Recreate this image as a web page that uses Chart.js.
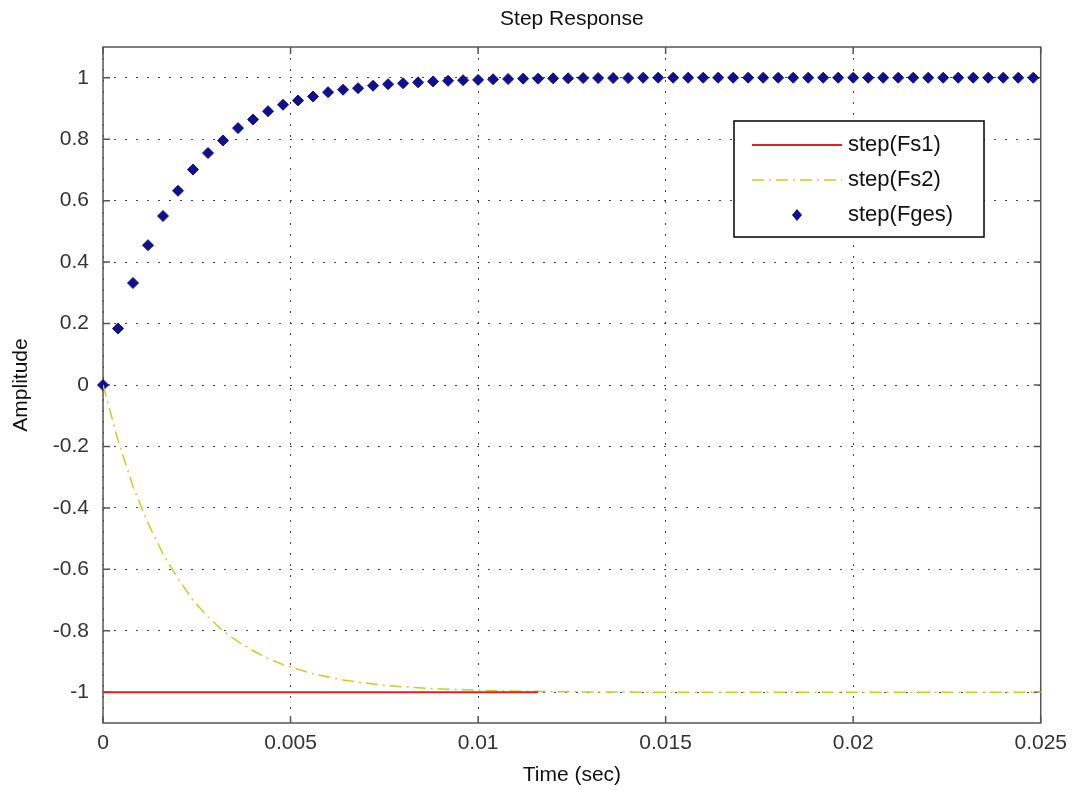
<!DOCTYPE html>
<html>
<head>
<meta charset="utf-8">
<title>Step Response</title>
<script src="https://cdn.jsdelivr.net/npm/chart.js@4.4.1/dist/chart.umd.min.js"></script>
<style>
  body { margin: 0; background: #fff; }
  canvas { display: block; }
</style>
</head>
<body>
<canvas id="step-chart" width="1075" height="796"></canvas>
<script>
// Данные
const stepTimes = [
    0, 0.0004, 0.0008, 0.0012, 0.0016, 0.002, 0.0024, 0.0028, 0.0032, 0.0036,
    0.004, 0.0044, 0.0048, 0.0052, 0.0056, 0.006, 0.0064, 0.0068, 0.0072, 0.0076,
    0.008, 0.0084, 0.0088, 0.0092, 0.0096, 0.01, 0.0104, 0.0108, 0.0112, 0.0116,
    0.012, 0.0124, 0.0128, 0.0132, 0.0136, 0.014, 0.0144, 0.0148, 0.0152, 0.0156,
    0.016, 0.0164, 0.0168, 0.0172, 0.0176, 0.018, 0.0184, 0.0188, 0.0192, 0.0196,
    0.02, 0.0204, 0.0208, 0.0212, 0.0216, 0.022, 0.0224, 0.0228, 0.0232, 0.0236,
    0.024, 0.0244, 0.0248
];
const fgesValues = [
    0, 0.184, 0.332, 0.455, 0.550, 0.632, 0.701, 0.755, 0.796, 0.836,
    0.864, 0.891, 0.912, 0.926, 0.939, 0.953, 0.961, 0.966, 0.974, 0.979,
    0.982, 0.985, 0.988, 0.990, 0.992, 0.993, 0.995, 0.996, 0.997, 0.997,
    0.998, 0.998, 0.999, 0.999, 0.999, 0.999, 1, 1, 1, 1,
    1, 1, 1, 1, 1, 1, 1, 1, 1, 1,
    1, 1, 1, 1, 1, 1, 1, 1, 1, 1,
    1, 1, 1
];
const fs2Times = stepTimes.concat([0.025]);
const fs2Values = [
    0, -0.18, -0.33, -0.45, -0.55, -0.63, -0.70, -0.755, -0.80, -0.835,
    -0.865, -0.89, -0.91, -0.925, -0.94, -0.95, -0.96, -0.967, -0.973, -0.978,
    -0.982, -0.985, -0.988, -0.99, -0.992, -0.993, -0.995, -0.996, -0.997, -0.997,
    -0.998, -0.998, -0.999, -0.999, -0.999, -0.999, -1, -1, -1, -1,
    -1, -1, -1, -1, -1, -1, -1, -1, -1, -1,
    -1, -1, -1, -1, -1, -1, -1, -1, -1, -1,
    -1, -1, -1, -1
];
const fs1Times = [0, 0.0116];
const fs1Values = [-1, -1];

const xTicks = [0, 0.005, 0.01, 0.015, 0.02, 0.025];
const yTicks = [-1, -0.8, -0.6, -0.4, -0.2, 0, 0.2, 0.4, 0.6, 0.8, 1];
const seriesNames = ['step(Fs1)', 'step(Fs2)', 'step(Fges)'];

const FONT = '"Liberation Sans", Arial, sans-serif';
const RED = '#e02020';
const YELLOW = '#cccc22';
const BLUE = '#10108c';

function toPoints(xs, ys) {
    return xs.map((x, i) => ({ x: x, y: ys[i] }));
}

// Рамка и засечки внутрь — под данными, легенда и заголовок — сверху
const framePlugin = {
    id: 'frame',
    beforeDatasetsDraw(chart) {
        const ctx = chart.ctx;
        const a = chart.chartArea;
        const xs = chart.scales.x;
        const ys = chart.scales.y;
        ctx.save();
        ctx.strokeStyle = '#555';
        ctx.lineWidth = 1.5;
        ctx.strokeRect(a.left, a.top, a.right - a.left, a.bottom - a.top);
        ctx.beginPath();
        xTicks.forEach(v => {
            const px = xs.getPixelForValue(v);
            ctx.moveTo(px, a.bottom); ctx.lineTo(px, a.bottom - 7);
            ctx.moveTo(px, a.top); ctx.lineTo(px, a.top + 7);
        });
        yTicks.forEach(v => {
            const py = ys.getPixelForValue(v);
            ctx.moveTo(a.left, py); ctx.lineTo(a.left + 7, py);
            ctx.moveTo(a.right, py); ctx.lineTo(a.right - 7, py);
        });
        ctx.stroke();
        ctx.restore();
    },
    afterDatasetsDraw(chart) {
        const ctx = chart.ctx;
        ctx.save();
        // легенда
        const bx = 734, by = 121, bw = 250, bh = 116;
        ctx.fillStyle = '#fff';
        ctx.fillRect(bx, by, bw, bh);
        ctx.strokeStyle = '#000';
        ctx.lineWidth = 1.5;
        ctx.strokeRect(bx, by, bw, bh);
        const rows = [145, 180, 215];
        ctx.lineWidth = 2;
        ctx.strokeStyle = RED;
        ctx.beginPath(); ctx.moveTo(752, rows[0]); ctx.lineTo(842, rows[0]); ctx.stroke();
        ctx.lineWidth = 1.5;
        ctx.strokeStyle = YELLOW;
        ctx.setLineDash([12, 5, 2, 5]);
        ctx.beginPath(); ctx.moveTo(752, rows[1]); ctx.lineTo(842, rows[1]); ctx.stroke();
        ctx.setLineDash([]);
        ctx.fillStyle = BLUE;
        ctx.beginPath();
        ctx.moveTo(797, rows[2] - 6); ctx.lineTo(802, rows[2]);
        ctx.lineTo(797, rows[2] + 6); ctx.lineTo(792, rows[2]);
        ctx.closePath(); ctx.fill();
        ctx.fillStyle = '#111';
        ctx.font = '22px ' + FONT;
        ctx.textAlign = 'left';
        ctx.textBaseline = 'middle';
        seriesNames.forEach((name, i) => ctx.fillText(name, 848, rows[i]));
        ctx.restore();
    },
    afterDraw(chart) {
        const ctx = chart.ctx;
        const a = chart.chartArea;
        ctx.save();
        ctx.fillStyle = '#111';
        ctx.font = '21px ' + FONT;
        ctx.textAlign = 'center';
        ctx.textBaseline = 'middle';
        ctx.fillText('Step Response', (a.left + a.right) / 2, 19);
        ctx.restore();
    }
};

const ctx = document.getElementById('step-chart').getContext('2d');
const stepChart = new Chart(ctx, {
    type: 'line',
    data: {
        datasets: [
            {
                label: seriesNames[0],
                data: toPoints(fs1Times, fs1Values),
                borderColor: RED,
                borderWidth: 2,
                pointRadius: 0,
                fill: false
            },
            {
                label: seriesNames[1],
                data: toPoints(fs2Times, fs2Values),
                borderColor: YELLOW,
                borderWidth: 1.5,
                borderDash: [12, 5, 2, 5],
                pointRadius: 0,
                fill: false
            },
            {
                label: seriesNames[2],
                data: toPoints(stepTimes, fgesValues),
                showLine: false,
                clip: false,
                pointStyle: 'rectRot',
                pointRadius: 5.5,
                pointBackgroundColor: BLUE,
                pointBorderColor: BLUE,
                pointBorderWidth: 1
            }
        ]
    },
    options: {
        responsive: false,
        animation: false,
        layout: { padding: { top: 47, right: 29, left: 0, bottom: 0 } },
        plugins: {
            legend: { display: false },
            title: { display: false },
            tooltip: { enabled: false }
        },
        scales: {
            x: {
                type: 'linear',
                min: 0,
                max: 0.025,
                afterBuildTicks: scale => { scale.ticks = xTicks.map(v => ({ value: v })); },
                afterFit: scale => { scale.height = 73; },
                grid: { color: '#444', lineWidth: 1, drawTicks: false },
                border: { display: false, dash: [2, 9] },
                ticks: {
                    padding: 8,
                    color: '#333',
                    font: { family: FONT, size: 21 },
                    maxRotation: 0,
                    callback: v => String(v)
                },
                title: {
                    display: true,
                    text: 'Time (sec)',
                    color: '#111',
                    font: { family: FONT, size: 21 },
                    padding: { top: 0, bottom: 8 }
                }
            },
            y: {
                type: 'linear',
                min: -1.1,
                max: 1.1,
                afterBuildTicks: scale => { scale.ticks = yTicks.map(v => ({ value: v })); },
                afterFit: scale => { scale.width = 103; },
                grid: { color: '#444', lineWidth: 1, drawTicks: false },
                border: { display: false, dash: [2, 9] },
                ticks: {
                    padding: 14,
                    color: '#333',
                    font: { family: FONT, size: 21 },
                    callback: v => String(v)
                },
                title: {
                    display: true,
                    text: 'Amplitude',
                    color: '#111',
                    font: { family: FONT, size: 21 },
                    padding: { top: 9, bottom: 0 }
                }
            }
        }
    },
    plugins: [framePlugin]
});
</script>
</body>
</html>
